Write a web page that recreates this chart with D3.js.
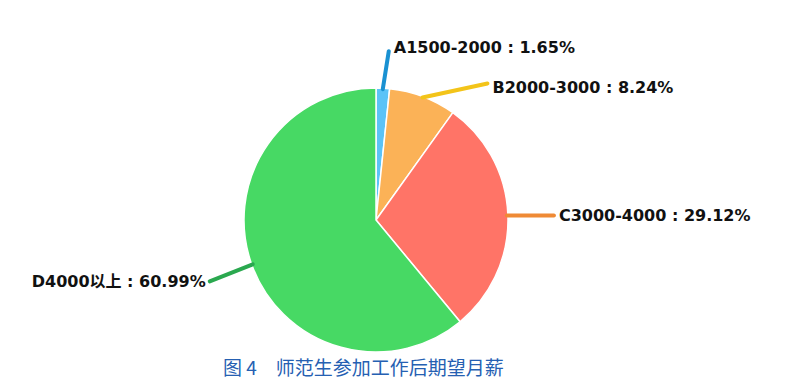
<!DOCTYPE html>
<meta charset="utf-8">
<style>
body { margin: 0; background: #fff; }
.label { font-family: "DejaVu Sans", "Noto Sans CJK SC", sans-serif; font-weight: bold; font-size: 16px; fill: #111; }
.caption { font-family: "Noto Sans CJK SC", sans-serif; font-size: 19px; fill: #2560b2; }
</style>
<body>
<script src="https://d3js.org/d3.v7.min.js"></script>
<script>
// data
var categories = ["A1500-2000", "B2000-3000", "C3000-4000", "D4000以上"];
var values = [1.65, 8.24, 29.12, 60.99];
var caption = "图 4\u3000师范生参加工作后期望月薪";

var fills = ["#5bc3f7", "#fbb257", "#ff7467", "#47d964"];
var lineColors = ["#1991d2", "#f3c419", "#ef8a35", "#2aa84f"];
// leader line end, relative to the slice's edge point
var leadEnd = [[6, -38], [65, -14], [47, 0], [-43, 17]];
var labelDy = ["0.1em", "0.6em", "0.35em", "0.35em"];

var width = 798, height = 387;
var cx = 376, cy = 220, r = 132;

var svg = d3.select("body").append("svg")
    .attr("width", width)
    .attr("height", height);

var g = svg.append("g").attr("transform", "translate(" + cx + "," + cy + ")");

var data = categories.map(function(c, i) { return {name: c, value: values[i], i: i}; });

var pie = d3.pie().sort(null).value(function(d) { return d.value; });
var arc = d3.arc().innerRadius(0).outerRadius(r);

var arcs = pie(data);

g.selectAll("path.slice")
  .data(arcs)
  .enter().append("path")
    .attr("class", "slice")
    .attr("d", arc)
    .attr("fill", function(d) { return fills[d.data.i]; })
    .attr("stroke", "#fff")
    .attr("stroke-width", 1.5);

function edge(d) {
  var a = (d.startAngle + d.endAngle) / 2;
  return [Math.sin(a) * (r - 1), -Math.cos(a) * (r - 1)];
}

g.selectAll("line.lead")
  .data(arcs)
  .enter().append("line")
    .attr("class", "lead")
    .attr("x1", function(d) { return edge(d)[0]; })
    .attr("y1", function(d) { return edge(d)[1]; })
    .attr("x2", function(d) { return edge(d)[0] + leadEnd[d.data.i][0]; })
    .attr("y2", function(d) { return edge(d)[1] + leadEnd[d.data.i][1]; })
    .attr("stroke", function(d) { return lineColors[d.data.i]; })
    .attr("stroke-width", 4)
    .attr("stroke-linecap", "round");

g.selectAll("text.label")
  .data(arcs)
  .enter().append("text")
    .attr("class", "label")
    .attr("x", function(d) {
      var x = edge(d)[0] + leadEnd[d.data.i][0];
      return x < 0 ? x - 4 : x + 5;
    })
    .attr("y", function(d) { return edge(d)[1] + leadEnd[d.data.i][1]; })
    .attr("dy", function(d) { return labelDy[d.data.i]; })
    .attr("text-anchor", function(d) { return edge(d)[0] + leadEnd[d.data.i][0] < 0 ? "end" : "start"; })
    .text(function(d) { return d.data.name + " : " + d3.format(".2f")(d.data.value) + "%"; });

svg.append("text")
  .attr("class", "caption")
  .attr("x", 223)
  .attr("y", 375)
  .text(caption);
</script>
